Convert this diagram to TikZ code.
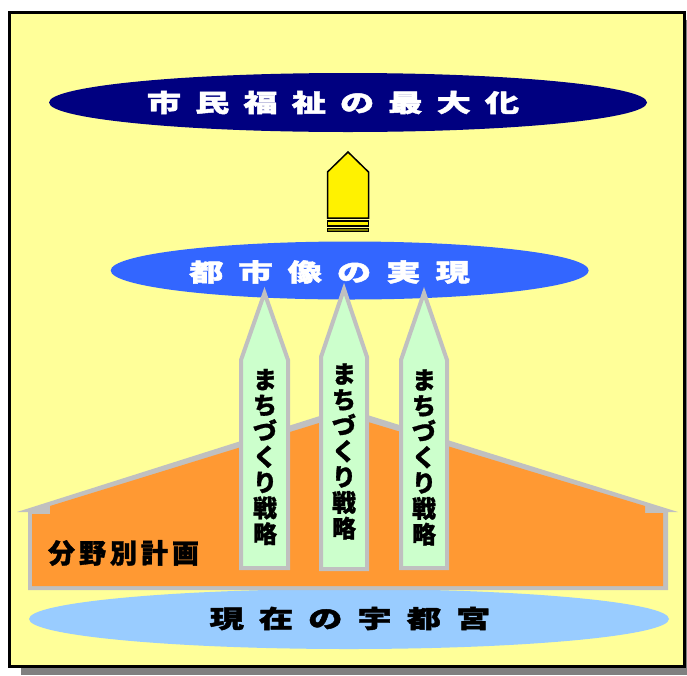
\documentclass[tikz,border=0pt]{standalone}
\usepackage{fontspec}
\newfontfamily\jp[FakeBold=1.2]{Noto Sans CJK JP}
\newfontfamily\jpw[FakeStretch=1.4,FakeBold=1.8]{Noto Sans CJK JP}
\usetikzlibrary{shapes.geometric}
\definecolor{bgyellow}{HTML}{FFFF99}
\definecolor{navyc}{HTML}{000080}
\definecolor{bluec}{HTML}{3366FF}
\definecolor{lightbluec}{HTML}{99CCFF}
\definecolor{orangec}{HTML}{FF9933}
\definecolor{greyc}{HTML}{C0C0C0}
\definecolor{greenc}{HTML}{CCFFCC}
\definecolor{shadowc}{HTML}{808080}
\definecolor{olivec}{HTML}{808000}
\newcommand{\gp}[1]{\kern#1pt\relax}
\tikzset{
  oval/.style={ellipse, draw=none, inner sep=0pt},
  lbl/.style={inner sep=0pt, font=\jpw\bfseries\fontsize{24.5}{26}\selectfont},
  pillar/.style={draw=greyc, fill=greenc, line width=4pt, line join=miter},
  ptext/.style={inner sep=0pt, align=center, font=\jp\bfseries\fontsize{24}{25.7}\selectfont},
  arrowpart/.style={draw=black, line width=1.5pt}
}
\begin{document}
\begin{tikzpicture}[x=1pt,y=-1pt]
\useasboundingbox (0,0) rectangle (687,675);
% shadow and frame
\fill[shadowc] (21,20) rectangle (687,675);
\draw[black, line width=3pt, fill=bgyellow] (9.5,12.5) rectangle (684.5,666.5);
% top ellipse
\node[oval, fill=navyc, minimum width=598pt, minimum height=59pt] (top) at (348,102.5) {};
\node[lbl, text=white] (toptext) at (333,102.5) {市\gp{14}民\gp{14}福\gp{14}祉\gp{14}の\gp{14}最\gp{14}大\gp{14}化};
% yellow arrow
\draw[arrowpart, fill=yellow] (327.5,218) -- (327.5,172) -- (348,152) -- (368.5,172) -- (368.5,218) -- cycle;
\draw[arrowpart, fill=yellow] (327.5,221) rectangle (368.5,226);
\draw[arrowpart, fill=olivec] (327.5,228.5) rectangle (368.5,231.5);
% middle ellipse
\node[oval, fill=bluec, minimum width=478pt, minimum height=58pt] (mid) at (349.7,270.5) {};
\node[lbl, text=white] (midtext) at (329.5,272) {都\gp{15}市\gp{15}像\gp{15}の\gp{15}実\gp{15}現};
% bottom ellipse
\node[oval, fill=lightbluec, minimum width=640pt, minimum height=60pt] (bot) at (349,619) {};
\node[lbl, text=black] (bottext) at (350,618.5) {現\gp{15}在\gp{15}の\gp{15}宇\gp{15}都\gp{15}宮};
% house
\fill[greyc] (17,512) -- (345,408) -- (678,512) -- (668,512) -- (668,590) -- (28,590) -- (28,512) -- cycle;
\fill[orangec] (32,586) -- (32,514) -- (50,514) -- (50,506) -- (345,415) -- (645,506) -- (645,513) -- (663,513) -- (663,586) -- cycle;
\node[inner sep=0pt, font=\jp\bfseries\fontsize{27}{29}\selectfont] (plan) at (123.5,553) {分\gp{4}野\gp{4}別\gp{4}計\gp{4}画};
% pillars
\draw[pillar] (241,568) -- (241,360) -- (264.5,293) -- (288,360) -- (288,568) -- cycle;
\draw[pillar] (321,569) -- (321,357) -- (344,289) -- (367,357) -- (367,569) -- cycle;
\draw[pillar] (401,568) -- (401,360) -- (424,293) -- (447,360) -- (447,568) -- cycle;
\node[ptext] (p1) at (265,457) {ま\\ち\\づ\\く\\り\\戦\\略};
\node[ptext] (p2) at (344,451.5) {ま\\ち\\づ\\く\\り\\戦\\略};
\node[ptext] (p3) at (424,457.5) {ま\\ち\\づ\\く\\り\\戦\\略};
\end{tikzpicture}
\end{document}
